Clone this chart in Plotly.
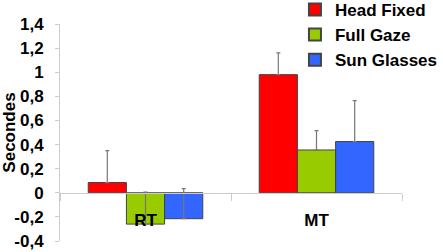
import plotly.graph_objects as go

categories = ["RT", "MT"]
series_names = ["Head Fixed", "Full Gaze", "Sun Glasses"]
head_fixed = [0.085, 0.98]
full_gaze = [-0.26, 0.355]
sun_glasses = [-0.215, 0.425]
head_fixed_err = [0.265, 0.18]
full_gaze_err = [0.265, 0.16]
sun_glasses_err = [0.25, 0.34]
colors = ["#FF0000", "#99CC00", "#3366FF"]
tick_vals = [-0.4, -0.2, 0, 0.2, 0.4, 0.6, 0.8, 1.0, 1.2, 1.4]
tick_text = ["-0,4", "-0,2", "0", "0,2", "0,4", "0,6", "0,8", "1", "1,2", "1,4"]

font_family = "Liberation Sans, Arial, sans-serif"

fig = go.Figure()
for name, vals, errs, col in zip(series_names, [head_fixed, full_gaze, sun_glasses],
                                 [head_fixed_err, full_gaze_err, sun_glasses_err], colors):
    fig.add_trace(go.Bar(
        x=categories, y=vals, name=name,
        marker=dict(color=col, line=dict(color="#444444", width=1)),
        error_y=dict(type="data", array=errs, arrayminus=[0, 0], symmetric=False,
                     color="#777777", thickness=1.2, width=2),
    ))

fig.update_layout(
    template="none",
    width=443, height=252,
    margin=dict(l=60, r=41, t=24, b=11, autoexpand=False),
    paper_bgcolor="white", plot_bgcolor="white",
    barmode="group", bargap=0.33, bargroupgap=0,
    font=dict(family=font_family, size=16, color="black"),
    showlegend=True,
    legend=dict(x=0.687, xref="paper", y=1.148, yref="paper", xanchor="left", yanchor="top",
                bgcolor="rgba(0,0,0,0)", font=dict(size=17, family=font_family, weight="bold"),
                itemsizing="constant", tracegroupgap=0, borderwidth=0),
    xaxis=dict(
        type="category", anchor="free", position=0.2222, automargin=False,
        showline=True, linecolor="#cccccc", linewidth=1,
        ticks="outside", tickson="boundaries", ticklen=7, tickcolor="#cccccc",
        tickfont=dict(size=17, family=font_family, weight="bold"),
        ticklabelstandoff=12,
        showgrid=False, zeroline=False,
    ),
    yaxis=dict(
        range=[-0.4, 1.4], tickvals=tick_vals, ticktext=tick_text, automargin=False,
        showline=True, linecolor="#cccccc", linewidth=1,
        ticks="outside", ticklen=4, tickcolor="#cccccc",
        tickfont=dict(size=17, family=font_family, weight="bold"),
        ticklabelstandoff=8,
        showgrid=False, zeroline=False,
        title=dict(text="Secondes", font=dict(size=17, family=font_family, weight="bold"), standoff=2),
    ),
)

fig.write_html("out.html", config={"displayModeBar": False},
               post_script="document.body.style.margin='0';")
